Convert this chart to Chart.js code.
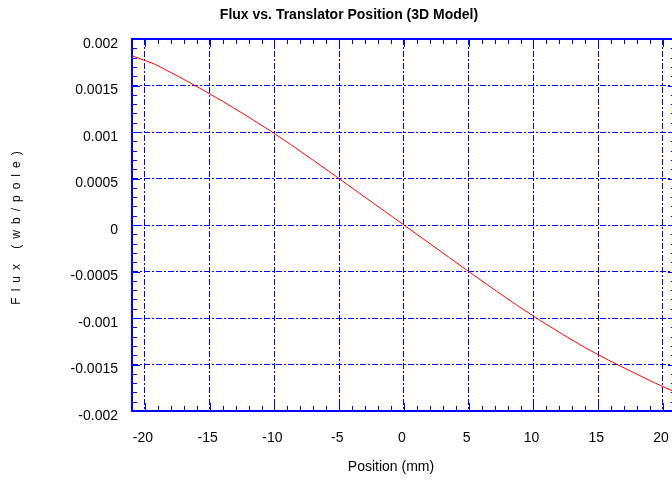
<!DOCTYPE html>
<html>
<head>
<meta charset="utf-8">
<script src="https://cdn.jsdelivr.net/npm/chart.js@4.4.1/dist/chart.umd.min.js"></script>
<style>
  html, body { margin: 0; padding: 0; background: #ffffff; overflow: hidden; }
  #wrap { position: relative; width: 690px; height: 481px; }
</style>
</head>
<body>
<div id="wrap"><canvas id="chart" width="690" height="481"></canvas></div>
<script>
// Translator position (mm) and flux linkage per pole (Wb)
const positions = [-21, -19.25, -17.5, -15.75, -14, -12.25, -10.5, -8.75, -7, -5.25, -3.5, -1.75,
                   0, 1.75, 3.5, 5.25, 7, 8.75, 10.5, 12.25, 14, 15.75, 17.5, 19.25, 21];
const flux = [0.00182, 0.00173, 0.001604, 0.00147, 0.00133, 0.001183, 0.001029, 0.000866, 0.000696,
              0.000523, 0.000348, 0.000174, 0, -0.000175, -0.00035, -0.000525, -0.000697, -0.000865,
              -0.001025, -0.001175, -0.00132, -0.00145, -0.00157, -0.00169, -0.0018];

const xTicks = [-20, -15, -10, -5, 0, 5, 10, 15, 20];
const yTicks = [-0.002, -0.0015, -0.001, -0.0005, 0, 0.0005, 0.001, 0.0015, 0.002];
const yTickLabels = ['-0.002', '-0.0015', '-0.001', '-0.0005', '0', '0.0005', '0.001', '0.0015', '0.002'];

const titleText = 'Flux vs. Translator Position (3D Model)';
const xTitle = 'Position (mm)';
const yTitle = 'Flux (wb/pole)';

const FONT = '"Liberation Sans", Arial, Helvetica, sans-serif';
const AXIS_BLUE = '#0000ff';

// Frame, inward tick marks on all four sides and the text labels
const framePlugin = {
  id: 'frame',
  afterDatasetsDraw(chart) {
    const { ctx, chartArea: a, scales: { x, y } } = chart;
    ctx.save();
    ctx.strokeStyle = AXIS_BLUE;
    ctx.lineWidth = 1;
    ctx.beginPath();
    // x ticks every 1 mm, longer at labelled values
    for (let v = Math.ceil(x.min); v <= x.max; v += 1) {
      const px = Math.round(x.getPixelForValue(v)) + 0.5;
      const len = (v % 5 === 0) ? 8 : 5;
      ctx.moveTo(px, a.bottom); ctx.lineTo(px, a.bottom - len);
      ctx.moveTo(px, a.top); ctx.lineTo(px, a.top + len);
    }
    // y ticks every 0.0001
    for (let i = -20; i <= 20; i++) {
      const v = i * 0.0001;
      const py = Math.round(y.getPixelForValue(v)) + 0.5;
      const len = (i % 5 === 0) ? 8 : 5;
      ctx.moveTo(a.left, py); ctx.lineTo(a.left + len, py);
      ctx.moveTo(a.right, py); ctx.lineTo(a.right - len, py);
    }
    ctx.stroke();
    ctx.lineWidth = 2;
    ctx.strokeRect(a.left, a.top, a.right - a.left, a.bottom - a.top);

    // titles
    ctx.fillStyle = '#000000';
    ctx.textAlign = 'center';
    ctx.textBaseline = 'middle';
    ctx.font = 'bold 14px ' + FONT;
    ctx.fillText(titleText, 349, 15);
    ctx.font = '14px ' + FONT;
    ctx.fillText(xTitle, 391, 467);

    ctx.save();
    ctx.translate(17, 228);
    ctx.rotate(-Math.PI / 2);
    ctx.font = '12px ' + FONT;
    if ('letterSpacing' in ctx) ctx.letterSpacing = '6px';
    ctx.fillText(yTitle, 3, 0);
    ctx.restore();
    ctx.restore();
  }
};

new Chart(document.getElementById('chart'), {
  type: 'line',
  data: {
    datasets: [{
      data: positions.map((p, i) => ({ x: p, y: flux[i] })),
      borderColor: '#ff0000',
      borderWidth: 1,
      pointRadius: 0,
      tension: 0,
      fill: false
    }]
  },
  options: {
    responsive: false,
    animation: false,
    layout: { padding: { top: 39, right: 10, bottom: 0, left: 0 } },
    plugins: { legend: { display: false }, title: { display: false }, tooltip: { enabled: false } },
    scales: {
      x: {
        type: 'linear',
        min: -21,
        max: 21,
        afterBuildTicks: s => { s.ticks = xTicks.map(v => ({ value: v })); },
        afterFit: s => { s.height = 70; },
        grid: { color: AXIS_BLUE, lineWidth: 1, drawTicks: false },
        border: { display: false, dash: [6, 2, 2, 2] },
        ticks: {
          autoSkip: false, maxRotation: 0, padding: 19, labelOffset: -2,
          color: '#000000', font: { family: FONT, size: 14 },
          callback: v => String(v)
        }
      },
      y: {
        type: 'linear',
        min: -0.002,
        max: 0.002,
        afterBuildTicks: s => { s.ticks = yTicks.map(v => ({ value: v })); },
        afterFit: s => { s.width = 132; },
        grid: { color: AXIS_BLUE, lineWidth: 1, drawTicks: false },
        border: { display: false, dash: [6, 2, 2, 2] },
        ticks: {
          autoSkip: false, padding: 14, labelOffset: 5,
          color: '#000000', font: { family: FONT, size: 14 },
          callback: (v, i) => yTickLabels[i]
        }
      }
    }
  },
  plugins: [framePlugin]
});
</script>
</body>
</html>
